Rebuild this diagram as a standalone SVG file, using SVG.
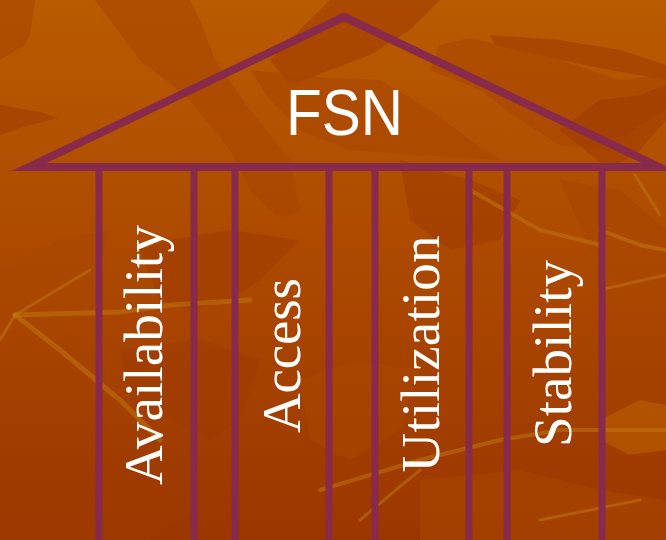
<svg xmlns="http://www.w3.org/2000/svg" width="666" height="540" viewBox="0 0 666 540">
  <defs>
    <linearGradient id="bg" x1="0" y1="0" x2="0" y2="1">
      <stop offset="0" stop-color="#b95b00"/>
      <stop offset="0.45" stop-color="#ad4a00"/>
      <stop offset="1" stop-color="#9b3600"/>
    </linearGradient>
    <style>
      .dark { fill: #9e3a00; opacity: 0.55; }
      .mid { fill: #a84600; opacity: 0.6; }
      .light { fill: #bd6200; opacity: 0.55; }
      .vein { stroke: #c27a10; stroke-linecap: round; fill: none; opacity: 0.5; }
      .beam { stroke: #872a4b; fill: none; }
      .col { stroke: #872a4b; stroke-width: 7; }
      .lbl { font-family: "Liberation Serif", "Times New Roman", serif; font-size: 55px; fill: #ffffff; text-anchor: middle; }
      .title { font-family: "Liberation Sans", Arial, sans-serif; font-size: 64px; fill: #ffffff; text-anchor: middle; }
    </style>
  </defs>

  <!-- background -->
  <rect x="0" y="0" width="666" height="540" fill="url(#bg)"/>
  <g id="background-leaves">
    <path class="dark" d="M0,105 L40,112 L58,118 L30,125 L0,135 Z"/>
    <path class="mid" d="M0,0 L35,0 L30,35 L25,45 L0,60 Z"/>
    <path class="mid" d="M95,0 L140,60 L190,100 L230,150 L250,190 L280,220 L300,210 L290,160 L250,110 L215,60 L200,20 L190,0 Z"/>
    <path class="dark" d="M330,0 L440,0 L410,30 L370,55 L330,70 L290,85 L270,60 L300,30 Z"/>
    <path class="mid" d="M250,70 L330,78 L380,80 L430,110 L470,140 L500,160 L420,155 L350,150 L300,130 L270,100 Z"/>
    <path class="dark" d="M490,35 L560,40 L620,50 L666,65 L666,80 L610,70 L560,60 L495,45 Z"/>
    <path class="mid" d="M440,45 L470,38 L560,60 L620,80 L666,75 L666,110 L640,125 L610,150 L560,145 L520,120 L480,90 L430,70 Z"/>
    <path class="dark" d="M560,130 L600,100 L640,95 L666,85 L666,120 L640,150 L610,170 Z"/>
    <path class="dark" d="M140,250 L170,240 L230,230 L300,240 L260,280 L230,300 L190,310 L160,300 Z"/>
    <path class="mid" d="M0,270 L60,240 L110,230 L90,300 L60,340 L20,330 L0,320 Z"/>
    <path class="dark" d="M120,350 L200,340 L260,360 L240,420 L210,440 L170,420 L130,400 Z"/>
    <path class="mid" d="M300,380 L360,360 L420,370 L400,430 L350,460 L310,440 Z"/>
    <path class="light" d="M600,420 L640,400 L666,405 L666,450 L630,455 L600,440 Z"/>
    <path class="mid" d="M560,180 L620,190 L666,230 L666,300 L630,290 L590,250 Z"/>
    <path class="dark" d="M400,160 L470,180 L520,200 L500,240 L450,250 L410,220 Z"/>
    <path class="dark" d="M0,470 L80,460 L160,480 L200,510 L150,540 L0,540 Z"/>
    <path class="mid" d="M420,480 L520,470 L600,490 L666,500 L666,540 L420,540 Z"/>
  </g>
  <g id="background-veins">
    <path class="vein" stroke-width="5" d="M15,315 L120,312 L170,305 L250,300"/>
    <path class="vein" stroke-width="3" d="M15,315 L90,270"/>
    <path class="vein" stroke-width="5" d="M15,315 L60,350 L120,400 L160,440"/>
    <path class="vein" stroke-width="3" d="M15,315 L0,340"/>
    <path class="vein" stroke-width="4" d="M600,230 L640,245 L666,250"/>
    <path class="vein" stroke-width="4" d="M470,190 L540,230 L600,245"/>
    <path class="vein" stroke-width="3" d="M600,290 L666,275"/>
    <path class="vein" stroke-width="4" d="M320,490 L420,460 L500,440 L560,430 L666,430"/>
    <path class="vein" stroke-width="3" d="M360,520 L420,470"/>
    <path class="vein" stroke-width="3" d="M635,175 L660,215"/>
    <path class="vein" stroke-width="3" d="M540,520 L640,500"/>
  </g>

  <!-- roof -->
  <g id="roof">
    <polygon class="beam" stroke-width="8" stroke-linejoin="miter" stroke-miterlimit="10" points="29,167 344,17 659,167"/>
    <text class="title" x="344.5" y="135" textLength="117" lengthAdjust="spacingAndGlyphs">FSN</text>
  </g>

  <!-- pillars -->
  <g id="pillar-availability">
    <line class="col" x1="99" y1="167" x2="99" y2="540"/>
    <line class="col" x1="194" y1="167" x2="194" y2="540"/>
    <text class="lbl" transform="translate(162,355) rotate(-90)" textLength="260" lengthAdjust="spacing">Availability</text>
  </g>
  <g id="pillar-access">
    <line class="col" x1="235" y1="167" x2="235" y2="540"/>
    <line class="col" x1="329" y1="167" x2="329" y2="540"/>
    <text class="lbl" transform="translate(300,355.5) rotate(-90)" textLength="155" lengthAdjust="spacing">Access</text>
  </g>
  <g id="pillar-utilization">
    <line class="col" x1="375" y1="167" x2="375" y2="540"/>
    <line class="col" x1="469" y1="167" x2="469" y2="540"/>
    <text class="lbl" transform="translate(439,354) rotate(-90)" textLength="237" lengthAdjust="spacing">Utilization</text>
  </g>
  <g id="pillar-stability">
    <line class="col" x1="507" y1="167" x2="507" y2="540"/>
    <line class="col" x1="602" y1="167" x2="602" y2="540"/>
    <text class="lbl" transform="translate(571,353.5) rotate(-90)" textLength="187" lengthAdjust="spacing">Stability</text>
  </g>
  <g id="connectors"></g>
</svg>
